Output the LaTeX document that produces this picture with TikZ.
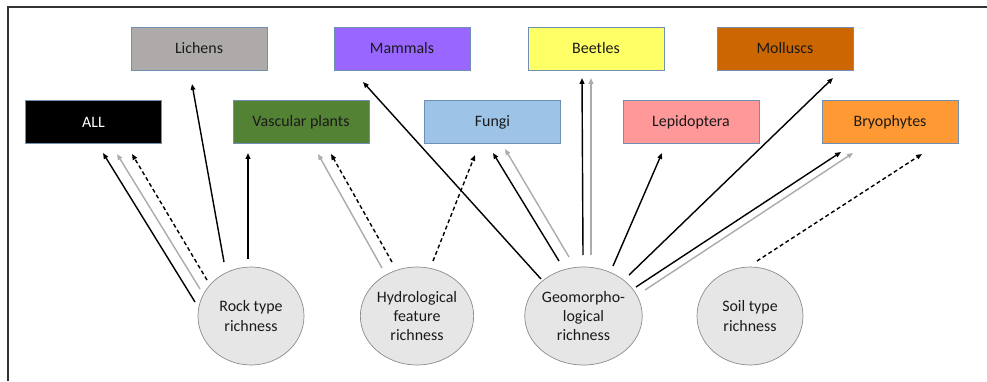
\documentclass[tikz,border=0pt]{standalone}
\usepackage{fontspec}
\setmainfont{Carlito}
\usepackage{xcolor}
\usetikzlibrary{arrows.meta,shapes.geometric}
\definecolor{taxLichen}{HTML}{AEAAAA}
\definecolor{taxMammal}{HTML}{9966FF}
\definecolor{taxVasc}{HTML}{548235}
\definecolor{taxFungi}{HTML}{9DC3E6}
\definecolor{taxBeetle}{HTML}{FFFF66}
\definecolor{taxMollusc}{HTML}{CC6600}
\definecolor{taxLepid}{HTML}{FF9999}
\definecolor{taxBryo}{HTML}{FF9933}
\definecolor{boxEdge}{HTML}{6F8FB5}
\definecolor{circFill}{HTML}{E6E6E6}
\definecolor{circEdge}{HTML}{8C8C8C}
\definecolor{lnGray}{HTML}{ABABAB}
\definecolor{txtDark}{HTML}{1A1A1A}

\begin{document}
\begin{tikzpicture}[
  x=0.3mm, y=-0.3mm,
  every node/.style={font=\fontsize{13.6}{16.5}\selectfont, text=txtDark},
  taxon/.style={
    rectangle, draw=boxEdge, fill=#1, line width=0.6pt,
    minimum width=40.8mm, minimum height=12.9mm, inner sep=0pt
  },
  driver/.style={
    ellipse, draw=circEdge, fill=circFill, line width=0.6pt,
    minimum width=31.8mm, minimum height=29.4mm, inner sep=0pt, align=center
  },
  lnk/.style={-{Triangle[length=5pt,width=4pt]}, line width=1.2pt, black},
  lnkgray/.style={lnk, lnGray},
  lnkdash/.style={lnk, dash pattern=on 3.4pt off 2.4pt},
]
\useasboundingbox (0,0) rectangle (987,381);

% frame (top and left edges only)
\draw[line width=1.6pt, black!80] (8,381) -- (8,7) -- (987,7);

% === Row 1 ===
\node[taxon=taxLichen] (lichens) at (199,48.5) {Lichens};
\node[taxon=taxMammal] (mammals) at (402,48.5) {Mammals};
\node[taxon=taxBeetle] (beetles) at (596,48.5) {Beetles};
\node[taxon=taxMollusc] (molluscs) at (785,48.5) {Molluscs};

% === Row 2 ===
\node[taxon=black, text=white] (all) at (93.5,122) {ALL};
\node[taxon=taxVasc] (vasc) at (301,122) {Vascular plants};
\node[taxon=taxFungi] (fungi) at (492.5,122) {Fungi};
\node[taxon=taxLepid] (lepid) at (691,122) {Lepidoptera};
\node[taxon=taxBryo] (bryo) at (890,122) {Bryophytes};

% === Drivers ===
\node[driver] (rock) at (251,316) {Rock type\\richness};
\node[driver] (hydro) at (417,316) {Hydrological\\feature\\richness};
\node[driver] (geo) at (583.5,316) {Geomorpho-\\logical\\richness};
\node[driver] (soil) at (750,316) {Soil type\\richness};

% Rock type richness
\draw[lnk] ([shift={(-56,-14)}]rock.center) -- ([shift={(9.5,31)}]all.center);
\draw[lnkgray] ([shift={(-51,-27)}]rock.center) -- ([shift={(23.5,32)}]all.center);
\draw[lnkdash] ([shift={(-44,-36)}]rock.center) -- ([shift={(38.5,32)}]all.center);
\draw[lnk] ([shift={(-27,-54)}]rock.center) -- ([shift={(-7,35.5)}]lichens.center);
\draw[lnk] ([shift={(-3,-57)}]rock.center) -- ([shift={(-53,31)}]vasc.center);

% Hydrological feature richness
\draw[lnkgray] ([shift={(-35,-48)}]hydro.center) -- ([shift={(17,32)}]vasc.center);
\draw[lnkdash] ([shift={(-25,-54)}]hydro.center) -- ([shift={(30,32)}]vasc.center);
\draw[lnkdash] ([shift={(16,-55)}]hydro.center) -- ([shift={(-17.5,33)}]fungi.center);

% Geomorphological richness
\draw[lnk] ([shift={(-42.5,-37)}]geo.center) -- ([shift={(-39,33.5)}]mammals.center);
\draw[lnk] ([shift={(-24.5,-55)}]geo.center) -- ([shift={(0.5,31)}]fungi.center);
\draw[lnkgray] ([shift={(-14.5,-59)}]geo.center) -- ([shift={(12.5,27)}]fungi.center);
\draw[lnk] ([shift={(-0.5,-61)}]geo.center) -- ([shift={(-14,29.5)}]beetles.center);
\draw[lnkgray] ([shift={(7.5,-61)}]geo.center) -- ([shift={(-5,29.5)}]beetles.center);
\draw[lnk] ([shift={(29.5,-50)}]geo.center) -- ([shift={(-29,31)}]lepid.center);
\draw[lnk] ([shift={(45.5,-41)}]geo.center) -- ([shift={(48,29.5)}]molluscs.center);
\draw[lnk] ([shift={(52.5,-29)}]geo.center) -- ([shift={(-49,30)}]bryo.center);
\draw[lnkgray] ([shift={(61.5,-26)}]geo.center) -- ([shift={(-37,31)}]bryo.center);

% Soil type richness
\draw[lnkdash] ([shift={(7,-55)}]soil.center) -- ([shift={(32,32)}]bryo.center);

\end{tikzpicture}
\end{document}
